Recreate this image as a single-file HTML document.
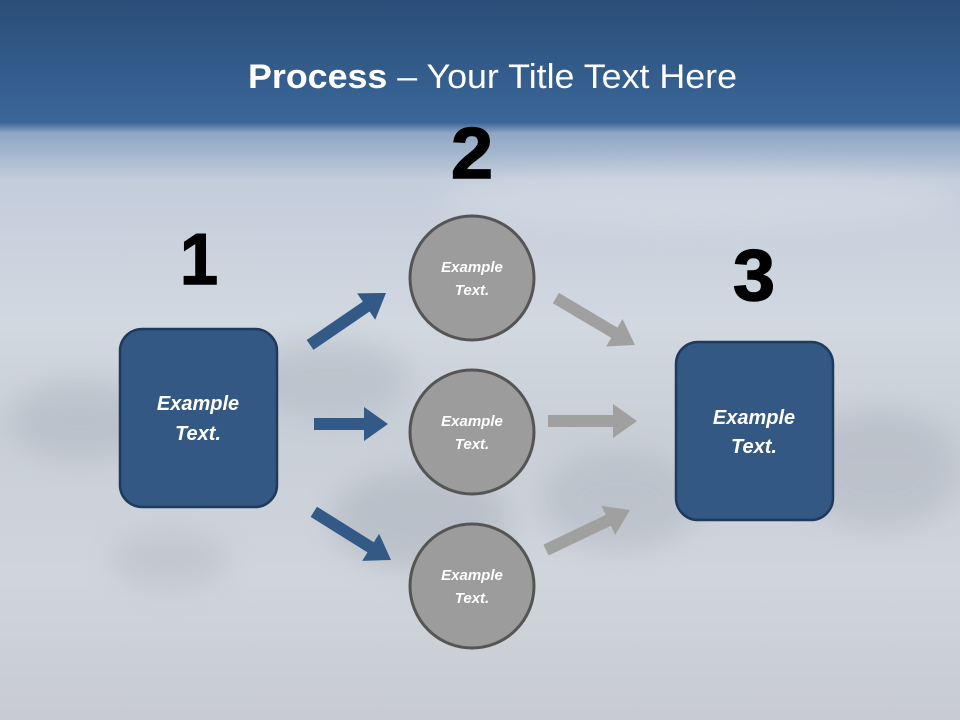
<!DOCTYPE html>
<html><head><meta charset="utf-8"><style>
html,body{margin:0;padding:0;width:960px;height:720px;overflow:hidden}
svg{display:block}
</style></head><body>
<svg width="960" height="720" viewBox="0 0 960 720" xmlns="http://www.w3.org/2000/svg">
<defs>
<linearGradient id="sky" x1="0" y1="0" x2="0" y2="1">
<stop offset="0" stop-color="#2b4d78"/>
<stop offset="0.17" stop-color="#3a6799"/>
<stop offset="0.185" stop-color="#8ea6c4"/>
<stop offset="0.25" stop-color="#c3cddb"/>
<stop offset="0.45" stop-color="#d2d8e0"/>
<stop offset="0.6" stop-color="#c9cfd7"/>
<stop offset="0.8" stop-color="#d0d5dc"/>
<stop offset="1" stop-color="#c8ccd1"/>
</linearGradient>
<filter id="bl"><feGaussianBlur stdDeviation="14"/></filter>
</defs>
<rect width="960" height="720" fill="url(#sky)"/>
<g filter="url(#bl)" opacity="0.3">
<ellipse cx="80" cy="420" rx="70" ry="40" fill="#9aa2ad"/>
<ellipse cx="330" cy="380" rx="80" ry="40" fill="#9aa2ad"/>
<ellipse cx="420" cy="520" rx="90" ry="50" fill="#8e97a3"/>
<ellipse cx="620" cy="500" rx="80" ry="50" fill="#9aa2ad"/>
<ellipse cx="880" cy="470" rx="80" ry="60" fill="#9aa2ad"/>
<ellipse cx="170" cy="560" rx="60" ry="30" fill="#a4abb5"/>
<ellipse cx="700" cy="200" rx="260" ry="30" fill="#e6eaef"/>
</g>
<g fill="#335a87">
<g transform="translate(386,293) rotate(-34.4)"><polygon points="0,0 -24,-16 -24,-6 -92,-6 -92,6 -24,6 -24,16"/></g>
<g transform="translate(388,424)"><polygon points="0,0 -24,-17 -24,-6 -74,-6 -74,6 -24,6 -24,17"/></g>
<g transform="translate(391,560) rotate(32)"><polygon points="0,0 -24,-16 -24,-6 -91,-6 -91,6 -24,6 -24,16"/></g>
</g>
<g fill="#a0a0a0">
<g transform="translate(635,345) rotate(30.7)"><polygon points="0,0 -24,-16 -24,-6 -92,-6 -92,6 -24,6 -24,16"/></g>
<g transform="translate(637,421)"><polygon points="0,0 -24,-17 -24,-6 -89,-6 -89,6 -24,6 -24,17"/></g>
<g transform="translate(630,510) rotate(-25.5)"><polygon points="0,0 -24,-16 -24,-6 -93,-6 -93,6 -24,6 -24,16"/></g>
</g>
<rect x="120" y="329" width="157" height="178" rx="22" fill="#325883" stroke="#1f3a5c" stroke-width="2.5"/>
<rect x="676" y="342" width="157" height="178" rx="22" fill="#325883" stroke="#1f3a5c" stroke-width="2.5"/>
<g fill="#9c9c9c" stroke="#555" stroke-width="3">
<circle cx="472" cy="278" r="62"/>
<circle cx="472" cy="432" r="62"/>
<circle cx="472" cy="586" r="62"/>
</g>
<g font-family="Liberation Sans, sans-serif" font-style="italic" font-weight="bold" fill="#fff" text-anchor="middle">
<text x="198" y="410" font-size="20">Example</text>
<text x="198" y="440" font-size="20">Text.</text>
<text x="754" y="424" font-size="20">Example</text>
<text x="754" y="453" font-size="20">Text.</text>
<text x="472" y="272" font-size="15">Example</text>
<text x="472" y="295" font-size="15">Text.</text>
<text x="472" y="426" font-size="15">Example</text>
<text x="472" y="449" font-size="15">Text.</text>
<text x="472" y="580" font-size="15">Example</text>
<text x="472" y="603" font-size="15">Text.</text>
</g>
<g font-family="Liberation Sans, sans-serif" font-weight="bold" fill="#000" text-anchor="middle" font-size="72" stroke="#000" stroke-width="1.5">
<text x="199" y="284" textLength="38" lengthAdjust="spacingAndGlyphs">1</text>
<text x="472" y="178" textLength="42" lengthAdjust="spacingAndGlyphs">2</text>
<text x="754" y="300" textLength="42" lengthAdjust="spacingAndGlyphs">3</text>
</g>
<text x="248" y="88" font-family="Liberation Sans, sans-serif" font-size="34" fill="#fff" textLength="489" lengthAdjust="spacingAndGlyphs"><tspan font-weight="bold">Process</tspan> – Your Title Text Here</text>
</svg>
</body></html>
